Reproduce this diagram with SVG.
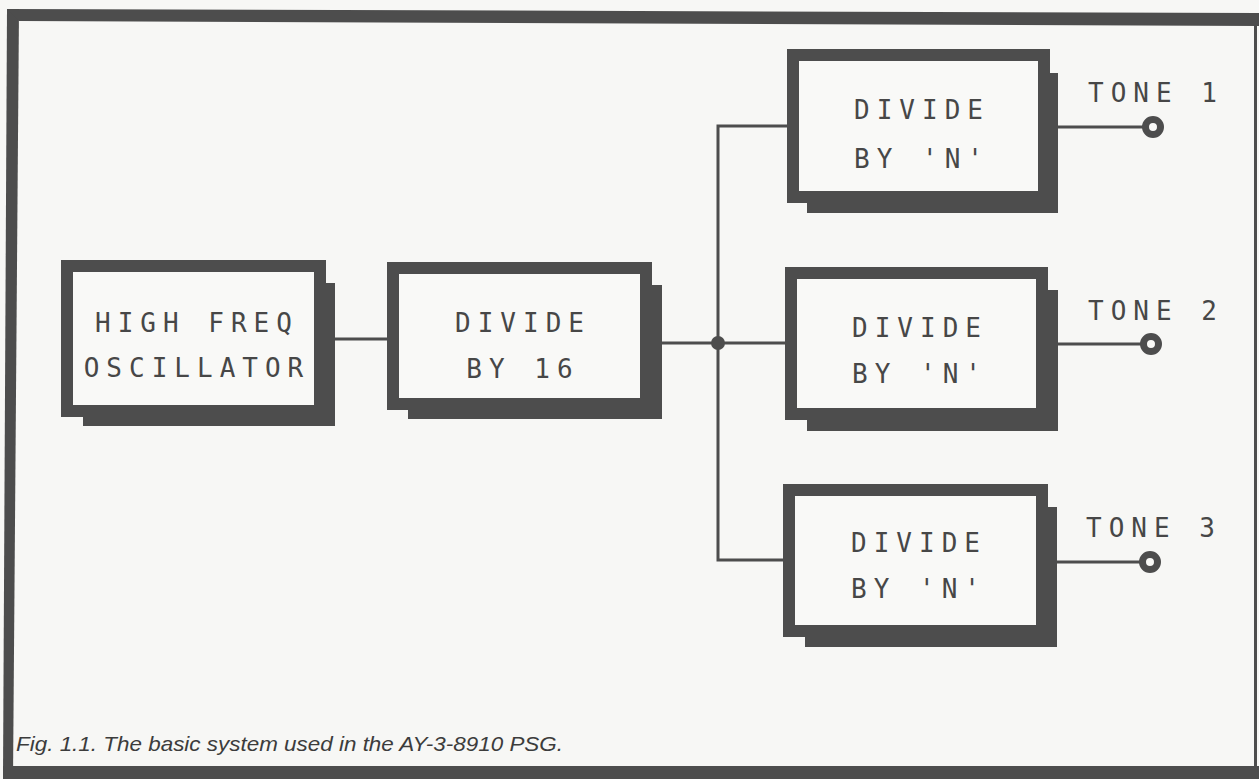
<svg xmlns="http://www.w3.org/2000/svg" width="1259" height="779" viewBox="0 0 1259 779">
<style>
.bg{fill:#f7f7f5}
.frame{fill:#4d4d4d}
.box{fill:#f9f9f7;stroke:#4d4d4d;stroke-width:12}
.shadow{fill:#4d4d4d}
.lbl{font-family:"DejaVu Sans Mono","Liberation Mono",monospace;font-size:26px;letter-spacing:7px;fill:#474747;text-anchor:middle}
.tone{font-family:"DejaVu Sans Mono","Liberation Mono",monospace;font-size:26px;letter-spacing:7px;fill:#474747}
.wire{stroke:#4d4d4d;stroke-width:3;fill:none}
.term{fill:#f9f9f7;stroke:#4d4d4d;stroke-width:7}
.cap{font-family:"Liberation Sans",Arial,sans-serif;font-style:italic;font-size:21px;fill:#3c3c3c}
</style>
<rect class="bg" x="0" y="0" width="1259" height="779"/>
<g id="frame">
<polygon class="frame" points="7,9 19,9 13,779 3,779"/>
<polygon class="frame" points="7,9 1259,13 1259,26 19,21"/>
<rect class="frame" x="1254" y="13" width="3" height="766"/>
<rect class="frame" x="3" y="766" width="1256" height="13"/>
</g>
<g id="connectors">
<line class="wire" x1="326" y1="339" x2="387" y2="339"/>
<line class="wire" x1="652" y1="343" x2="785" y2="343"/>
<polyline class="wire" points="787,126 718,126 718,560 783,560"/>
<circle cx="718" cy="343" r="7" fill="#4d4d4d"/>
<line class="wire" x1="1050" y1="127" x2="1153" y2="127"/>
<line class="wire" x1="1048" y1="344" x2="1151" y2="344"/>
<line class="wire" x1="1048" y1="562" x2="1150" y2="562"/>
</g>
<g id="oscillator">
<rect class="shadow" x="83" y="283" width="252" height="143"/>
<rect class="box" x="67" y="266" width="253" height="145"/>
<text class="lbl" x="197" y="332">HIGH FREQ</text>
<text class="lbl" x="197" y="377">OSCILLATOR</text>
</g>
<g id="div16">
<rect class="shadow" x="408" y="285" width="254" height="134"/>
<rect class="box" x="393" y="268" width="253" height="136"/>
<text class="lbl" x="523" y="332">DIVIDE</text>
<text class="lbl" x="523" y="378">BY 16</text>
</g>
<g id="divn1">
<rect class="shadow" x="807" y="73" width="251" height="140"/>
<rect class="box" x="793" y="55" width="251" height="142"/>
<text class="lbl" x="922" y="119">DIVIDE</text>
<text class="lbl" x="922" y="168">BY 'N'</text>
</g>
<g id="divn2">
<rect class="shadow" x="807" y="290" width="251" height="141"/>
<rect class="box" x="791" y="273" width="251" height="141"/>
<text class="lbl" x="920" y="337">DIVIDE</text>
<text class="lbl" x="920" y="383">BY 'N'</text>
</g>
<g id="divn3">
<rect class="shadow" x="805" y="507" width="252" height="140"/>
<rect class="box" x="789" y="490" width="253" height="141"/>
<text class="lbl" x="919" y="552">DIVIDE</text>
<text class="lbl" x="919" y="598">BY 'N'</text>
</g>
<g id="tone1">
<circle class="term" cx="1153" cy="127" r="7.5"/>
<text class="tone" x="1088" y="102">TONE 1</text>
</g>
<g id="tone2">
<circle class="term" cx="1151" cy="344" r="7.5"/>
<text class="tone" x="1088" y="320">TONE 2</text>
</g>
<g id="tone3">
<circle class="term" cx="1150" cy="562" r="7.5"/>
<text class="tone" x="1086" y="537">TONE 3</text>
</g>
<text class="cap" x="16" y="751" textLength="547" lengthAdjust="spacingAndGlyphs">Fig. 1.1. The basic system used in the AY-3-8910 PSG.</text>
</svg>
